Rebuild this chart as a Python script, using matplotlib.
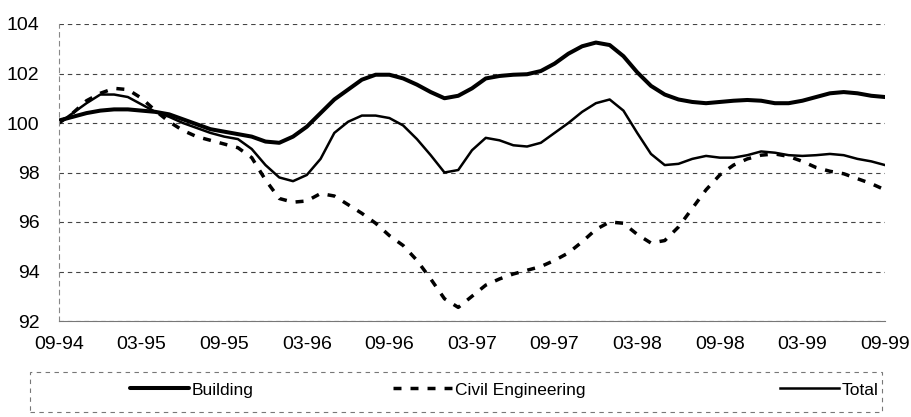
import matplotlib
matplotlib.use("Agg")
import matplotlib.pyplot as plt
from matplotlib.patches import Rectangle

plt.rcParams["font.family"] = ["Liberation Sans", "DejaVu Sans"]

tick_labels = ["09-94", "03-95", "09-95", "03-96", "09-96", "03-97",
               "09-97", "03-98", "09-98", "03-99", "09-99"]

# monthly index values, 09-94 .. 09-99
building = [100.1, 100.25, 100.4, 100.5, 100.55, 100.55, 100.5, 100.45, 100.35, 100.15,
            99.95, 99.75, 99.65, 99.55, 99.45, 99.25, 99.2, 99.45, 99.85, 100.4,
            100.95, 101.35, 101.75, 101.95, 101.95, 101.8, 101.55, 101.25, 101.0, 101.1,
            101.4, 101.8, 101.9, 101.95, 101.97, 102.1, 102.4, 102.8, 103.1, 103.25,
            103.15, 102.7, 102.05, 101.5, 101.15, 100.95, 100.85, 100.8, 100.85, 100.9,
            100.93, 100.9, 100.8, 100.8, 100.9, 101.05, 101.2, 101.25, 101.2, 101.1,
            101.05]
civil = [100.0, 100.4, 100.9, 101.2, 101.4, 101.35, 101.0, 100.5, 100.05, 99.7,
         99.45, 99.3, 99.15, 99.0, 98.6, 97.7, 96.95, 96.8, 96.85, 97.15,
         97.05, 96.7, 96.35, 95.95, 95.45, 95.05, 94.45, 93.7, 92.9, 92.55,
         93.0, 93.45, 93.7, 93.9, 94.05, 94.2, 94.45, 94.75, 95.2, 95.7,
         96.0, 95.95, 95.5, 95.15, 95.25, 95.8, 96.55, 97.3, 97.9, 98.3,
         98.55, 98.7, 98.75, 98.65, 98.45, 98.2, 98.05, 97.95, 97.75, 97.55,
         97.3]
total = [100.0, 100.4, 100.8, 101.15, 101.15, 101.05, 100.75, 100.45, 100.25, 100.0,
         99.8, 99.6, 99.45, 99.35, 98.95, 98.3, 97.8, 97.65, 97.9, 98.55,
         99.6, 100.05, 100.3, 100.3, 100.2, 99.9, 99.35, 98.7, 98.0, 98.1,
         98.9, 99.4, 99.3, 99.1, 99.05, 99.2, 99.6, 100.0, 100.45, 100.8,
         100.95, 100.5, 99.6, 98.75, 98.3, 98.35, 98.55, 98.67, 98.6, 98.6,
         98.7, 98.85, 98.8, 98.7, 98.67, 98.7, 98.75, 98.7, 98.55, 98.45,
         98.3]

months = list(range(len(building)))

fig = plt.figure(figsize=(9.12, 4.17), dpi=100)
ax = fig.add_axes([59 / 912, 1 - 321 / 417, 826 / 912, 297 / 417])

l_b, = ax.plot(months, building, color="black", lw=2.9, label="Building", solid_capstyle="round")
l_c, = ax.plot(months, civil, color="black", lw=2.5, linestyle=(0, (2.3, 2.6)), label="Civil Engineering")
l_t, = ax.plot(months, total, color="black", lw=1.8, label="Total")

ax.set_xlim(0, 60)
ax.set_ylim(92, 104)
ax.set_xticks(range(0, 61, 6))
ax.set_xticklabels(tick_labels)
ax.set_yticks(range(92, 105, 2))
ax.tick_params(axis="both", length=0, labelsize=14)
ax.tick_params(axis="y", pad=14)
ax.tick_params(axis="x", pad=11)

ax.grid(axis="y", color="#444444", lw=0.8, linestyle=(0, (4, 3.5)))
ax.spines["top"].set_visible(False)
ax.spines["right"].set_visible(False)
ax.spines["left"].set_color("#888888")
ax.spines["left"].set_linewidth(0.8)
ax.spines["left"].set_linestyle((0, (4, 4)))
ax.spines["bottom"].set_color("#777777")
ax.spines["bottom"].set_linewidth(0.8)

# legend box, entries placed one by one like the original
fig.patches.append(Rectangle((30 / 912, 1 - 412 / 417), 852 / 912, 40 / 417,
                             transform=fig.transFigure, fill=False,
                             edgecolor="#777777", lw=0.8, linestyle=(0, (4, 4))))
for handle, x0 in [(l_b, 130), (l_c, 393), (l_t, 780)]:
    fig.legend(handles=[handle], loc="center left", bbox_to_anchor=(x0 / 912, 1 - 390 / 417),
               frameon=False, fontsize=12.5, handlelength=3.4, handletextpad=0.15,
               borderpad=0, borderaxespad=0)

fig.savefig("out.png", dpi=100)
